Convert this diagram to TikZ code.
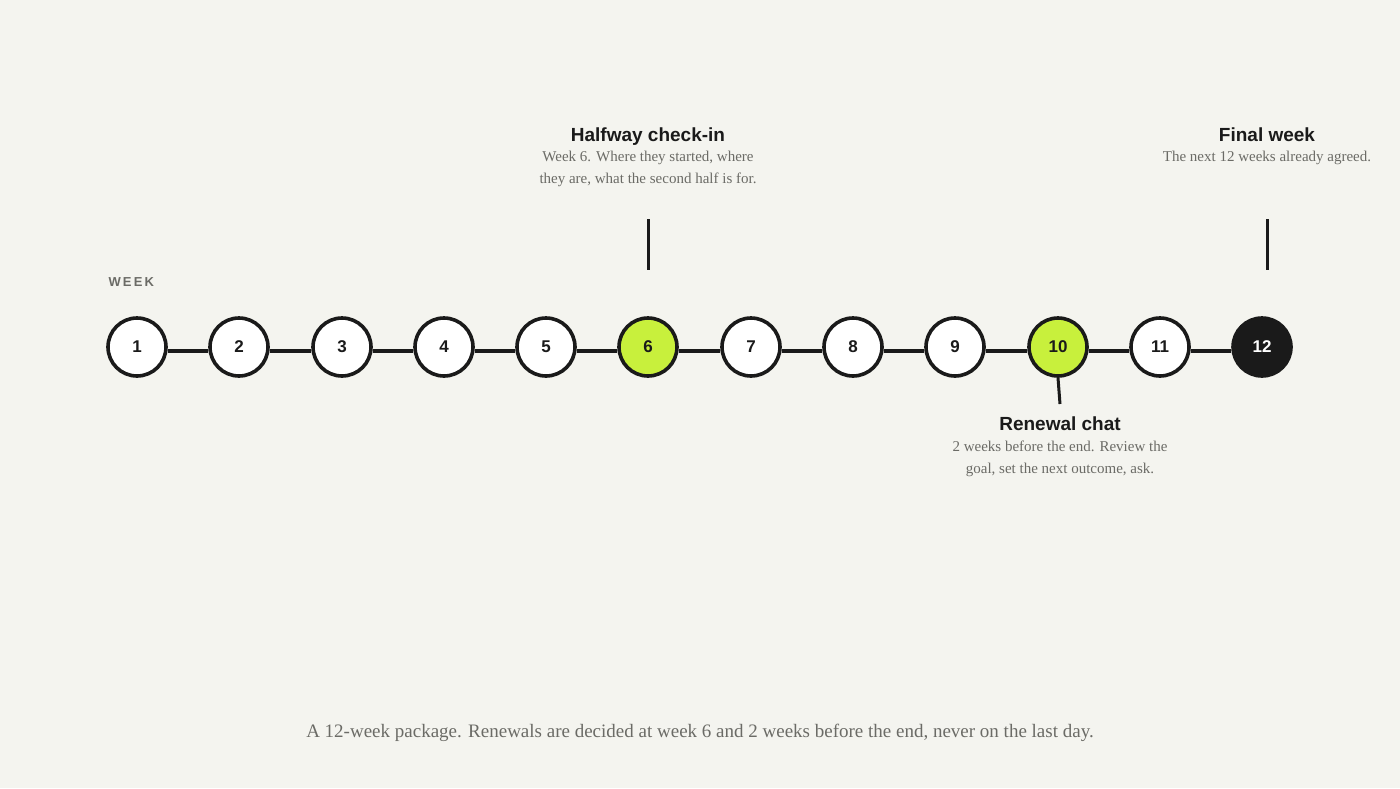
\documentclass[tikz,border=0pt]{standalone}
\usepackage{fontspec}
\setmainfont{Liberation Serif}
\newfontfamily\hd{Liberation Sans}
\definecolor{bg}{HTML}{F4F4EF}
\definecolor{ink}{HTML}{1A1A1A}
\definecolor{lime}{HTML}{C8F03C}
\definecolor{mute}{HTML}{6B6B66}
\begin{document}
\begin{tikzpicture}[x=1pt,y=-1pt,
  wk/.style={circle,draw=ink,line width=3.6pt,fill=white,minimum size=58pt,inner sep=0pt,font=\hd\bfseries\fontsize{17}{20}\selectfont,text=ink},
  hl/.style={wk,fill=lime},
  dk/.style={wk,fill=ink,text=white},
  link/.style={draw=ink,line width=3.6pt},
  tick/.style={draw=ink,line width=3pt},
  ttl/.style={font=\hd\bfseries\fontsize{19}{22}\selectfont,text=ink,anchor=base},
  dsc/.style={font=\fontsize{15}{22}\selectfont,text=mute,align=center,anchor=north}]
\fill[bg] (0,0) rectangle (1400,788);
\useasboundingbox (0,0) rectangle (1400,788);
\foreach \i/\x/\s in {1/137/wk,2/239/wk,3/342/wk,4/444/wk,5/546/wk,6/648/hl,7/751/wk,8/853/wk,9/955/wk,10/1058/hl,11/1160/wk,12/1262/dk}
  \node[\s] (n\i) at (\x,347) {\i};
\foreach \a/\b in {1/2,2/3,3/4,4/5,5/6,6/7,7/8,8/9,9/10,10/11,11/12}
  \draw[link] ([yshift=-4pt]n\a.east) -- ([yshift=-4pt]n\b.west);
\node[anchor=base west,font=\hd\bfseries\fontsize{13}{15}\selectfont,text=mute] (wl) at (105,286) {W\,E\,E\,K};
% halfway
\coordinate (t6a) at (648,219); \coordinate (t6b) at (648,270);
\draw[tick] (t6a) -- (t6b);
\node[ttl] (h1) at (648,141) {Halfway check-in};
\node[dsc] (h2) at (648,148) {Week 6. Where they started, where\\they are, what the second half is for.};
% final
\coordinate (t12a) at (1267,219); \coordinate (t12b) at (1267,270);
\draw[tick] (t12a) -- (t12b);
\node[ttl] (f1) at (1267,141) {Final week};
\node[dsc] (f2) at (1267,148) {The next 12 weeks already agreed.};
% renewal
\coordinate (t10b) at (1060,404);
\draw[tick] (n10.south) -- (t10b);
\node[ttl] (r1) at (1060,430) {Renewal chat};
\node[dsc] (r2) at (1060,437) {2 weeks before the end. Review the\\goal, set the next outcome, ask.};
\node[font=\fontsize{19}{22}\selectfont,text=mute] (cap) at (700,733) {A 12-week package. Renewals are decided at week 6 and 2 weeks before the end, never on the last day.};
\end{tikzpicture}
\end{document}
